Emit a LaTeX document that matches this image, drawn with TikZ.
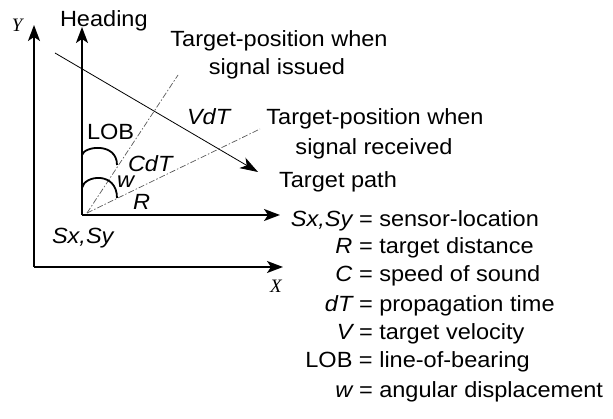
\documentclass[tikz,border=0pt]{standalone}
\usepackage{fontspec}
\setmainfont{Liberation Sans}[FakeStretch=1.07]
\newfontfamily\tms{Liberation Serif}
\usetikzlibrary{arrows.meta}
\begin{document}
\begin{tikzpicture}[x=1pt,y=-1pt,
  every node/.style={inner sep=0pt,outer sep=0pt,font=\fontsize{22}{26}\selectfont},
  lbl/.style={anchor=base west},
  ctr/.style={anchor=base},
  axis/.style={line width=1.9pt,-{Stealth[length=16pt,width=12pt,inset=4pt]}},
  path/.style={line width=0.8pt,-{Stealth[length=18pt,width=12pt,inset=5pt]}},
  ray/.style={line width=0.7pt,gray!70!black,dash pattern=on 6pt off 2pt on 1.5pt off 2pt},
  anglearc/.style={line width=1.8pt},
  leg/.style={anchor=base west}]
\useasboundingbox (0,0) rectangle (613,419);
% coordinates
\coordinate (O) at (34,267);
\coordinate (Ytip) at (34,25);
\coordinate (Xtip) at (283,267);
\coordinate (S) at (82,215);
\coordinate (Htip) at (82,27);
\coordinate (Stip) at (280,215);
\coordinate (ray0) at (87,213);
\coordinate (issued) at (178,75);
\coordinate (received) at (260,129);
\coordinate (pathA) at (55,53);
\coordinate (pathB) at (258,172);
\coordinate (lobA) at (82,155);
\coordinate (lobB) at (117,165);
\coordinate (wA) at (82,188);
\coordinate (wB) at (117,198);
% outer axes
\draw[axis] (O) -- (Ytip);
\draw[axis] (O) -- (Xtip);
% inner axes
\draw[axis] (S) -- (Htip);
\draw[axis] (S) -- (Stip);
% rays
\draw[ray] (ray0) -- (issued);
\draw[ray] (ray0) -- (received);
% target path
\draw[path] (pathA) -- (pathB);
% angle arcs
\draw[anglearc] (lobA) .. controls (84,146) and (117,142) .. (lobB);
\draw[anglearc] (wA) .. controls (84,175) and (117,171) .. (wB);
% axis labels
\node[lbl,font=\fontsize{19}{22}\selectfont\tms\itshape] (ylab) at (12,32) {Y};
\node[lbl,font=\fontsize{19}{22}\selectfont\tms\itshape] (xlab) at (270,293) {X};
\node[lbl] (heading) at (60,27) {Heading};
\node[lbl] (sxsy) at (52,244) {\itshape Sx,Sy};
% inner labels
\node[lbl] (loblab) at (87,140) {LOB};
\node[lbl] (cdt) at (128,172) {\itshape CdT};
\node[lbl] (wlab) at (117,188) {\itshape w};
\node[lbl] (rlab) at (133,210) {\itshape R};
\node[lbl] (vdt) at (187,125) {\itshape VdT};
% target labels
\node[ctr] (iss1) at (279,47) {Target-position when};
\node[ctr] (iss2) at (277,75) {signal issued};
\node[ctr] (rec1) at (375,125) {Target-position when};
\node[ctr] (rec2) at (374,155) {signal received};
\node[ctr] (tpath) at (338,188) {Target path};
% legend
\node[leg] (l1) at (359,227) {\llap{\itshape Sx,Sy\ }= sensor-location};
\node[leg] (l2) at (359,254) {\llap{\itshape R\ }= target distance};
\node[leg] (l3) at (359,282) {\llap{\itshape C\ }= speed of sound};
\node[leg] (l4) at (359,312) {\llap{\itshape dT\ }= propagation time};
\node[leg] (l5) at (359,340) {\llap{\itshape V\ }= target velocity};
\node[leg] (l6) at (359,368) {\llap{LOB\ }= line-of-bearing};
\node[leg] (l7) at (359,397) {\llap{\itshape w\ }= angular displacement};
\end{tikzpicture}
\end{document}
